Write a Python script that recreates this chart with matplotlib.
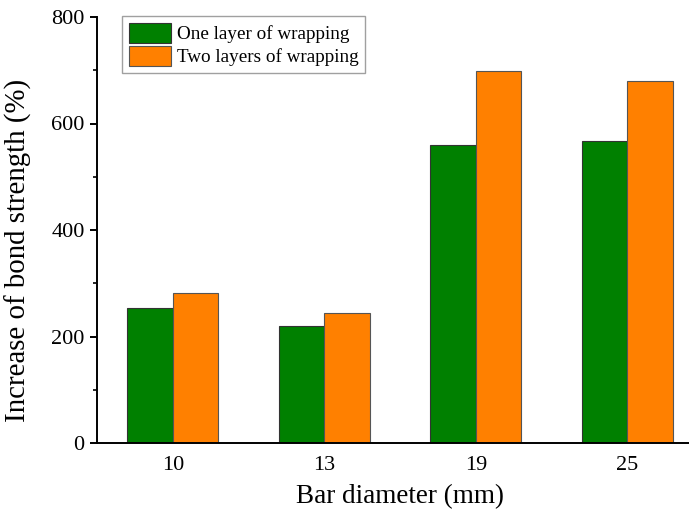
import numpy as np
import matplotlib
matplotlib.use('Agg')
import matplotlib.pyplot as plt
from matplotlib.ticker import MultipleLocator

# bond strength increase per bar diameter
diameters = ['10', '13', '19', '25']
one_layer = [253, 220, 560, 567]
two_layers = [282, 244, 699, 679]

plt.rcParams['font.family'] = 'serif'
plt.rcParams['font.serif'] = ['Liberation Serif', 'DejaVu Serif']

fig = plt.figure(figsize=(6.89, 5.13), dpi=100)
ax = fig.add_axes([97 / 689, 70 / 513, 606 / 689, 426 / 513])

x = np.arange(1, len(diameters) + 1)
w = 0.3
ax.bar(x - w / 2, one_layer, w, color='#008000', edgecolor='#333333',
       linewidth=0.8, label='One layer of wrapping')
ax.bar(x + w / 2, two_layers, w, color='#FF8000', edgecolor='#555555',
       linewidth=0.8, label='Two layers of wrapping')

ax.set_xlim(0.5, 4.5)
ax.set_ylim(0, 800)
ax.set_xticks(x)
ax.set_xticklabels(diameters)
ax.yaxis.set_major_locator(MultipleLocator(200))
ax.yaxis.set_minor_locator(MultipleLocator(100))

for s in ['top', 'right']:
    ax.spines[s].set_visible(False)
for s in ['left', 'bottom']:
    ax.spines[s].set_linewidth(1.4)

ax.tick_params(axis='x', length=0, labelsize=16, pad=9)
ax.tick_params(axis='y', which='major', direction='out', length=5, width=1.4,
               labelsize=16, pad=4)
ax.tick_params(axis='y', which='minor', direction='out', length=3, width=1.2)

ax.set_xlabel('Bar diameter (mm)', fontsize=19.5, labelpad=7)
ax.set_ylabel('Increase of bond strength (%)', fontsize=20.8)
ax.yaxis.set_label_coords(-0.107, 0.453)

leg = ax.legend(loc='upper left', bbox_to_anchor=(122 / 689, 1 - 16 / 513),
                bbox_transform=fig.transFigure, borderaxespad=0,
                fontsize=13.8, frameon=True, fancybox=False,
                handlelength=2.2, handleheight=1.25, handletextpad=0.3,
                labelspacing=0.12, borderpad=0.35)
leg.get_frame().set_edgecolor('#888888')
leg.get_frame().set_linewidth(1.0)

fig.savefig('out.png', dpi=100)
